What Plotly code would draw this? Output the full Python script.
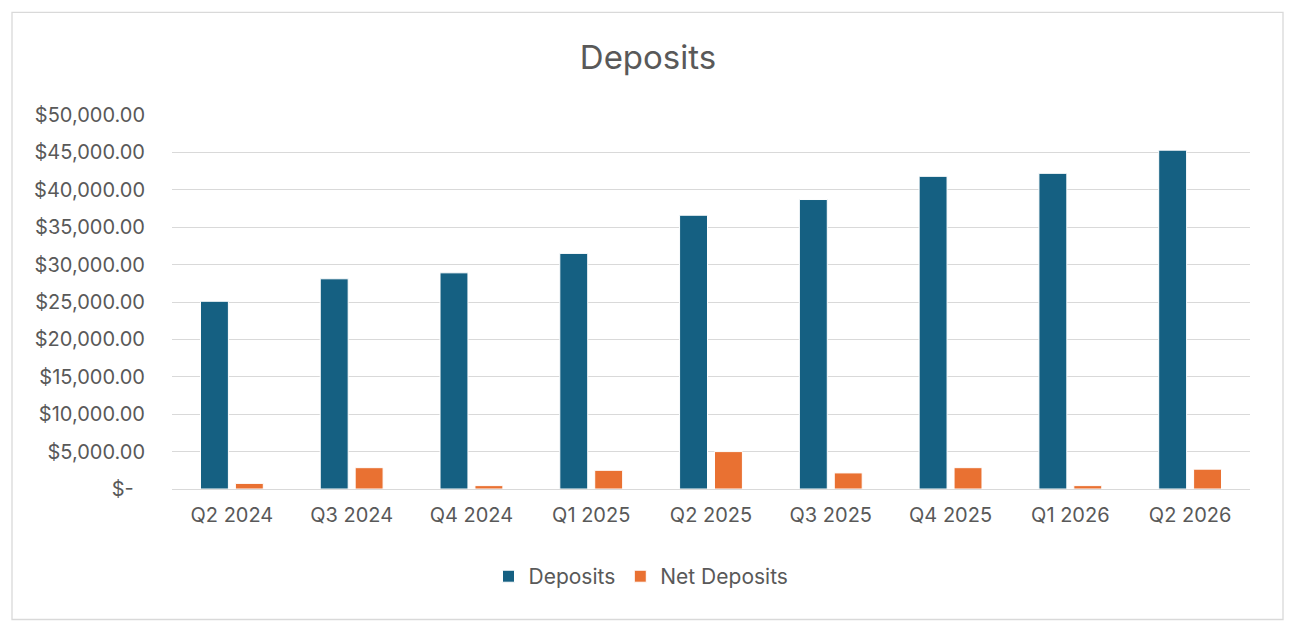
import plotly.graph_objects as go

quarters = ["Q2 2024", "Q3 2024", "Q4 2024", "Q1 2025", "Q2 2025",
            "Q3 2025", "Q4 2025", "Q1 2026", "Q2 2026"]
deposits = [25100, 28100, 28900, 31500, 36600, 38700, 41800, 42200, 45300]
net_deposits = [750, 2850, 450, 2500, 5000, 2150, 2850, 450, 2650]

y_tick_values = [0, 5000, 10000, 15000, 20000, 25000, 30000, 35000, 40000, 45000, 50000]
y_tick_labels = ["$-\u00a0\u00a0", "$5,000.00", "$10,000.00", "$15,000.00", "$20,000.00",
                 "$25,000.00", "$30,000.00", "$35,000.00", "$40,000.00", "$45,000.00",
                 "$50,000.00"]

FONT = "Inter"
TXT = "#595959"

fig = go.Figure()
fig.add_trace(go.Bar(name="Deposits", x=quarters, y=deposits,
                     marker=dict(color="#156082", line=dict(color="white", width=1))))
fig.add_trace(go.Bar(name="Net Deposits", x=quarters, y=net_deposits,
                     marker=dict(color="#E97132", line=dict(color="white", width=1))))

# page has an 8px body margin; figure coordinates = page coordinates - 8
OFF = 8
W, H = 1280, 616
L = 172 - OFF
T = 114.7 - OFF
R = W - (1250 - OFF)
B = H - (489.3 - OFF)
pw = W - L - R
ph = H - T - B

def px_x(x):
    return (x - OFF - L) / pw

def px_y(y):
    return (H - B - (y - OFF)) / ph

fig.update_layout(
    width=W, height=H,
    margin=dict(l=L, r=R, t=T, b=B, pad=0),
    paper_bgcolor="white", plot_bgcolor="white",
    font=dict(family=FONT, color=TXT, size=20),
    barmode="group", bargap=0.417, bargroupgap=0.2,
    title=dict(text="Deposits", x=0.5, xanchor="center", y=1 - (57 - OFF) / H, yanchor="middle",
               yref="container", font=dict(size=33, color=TXT, family=FONT)),
    showlegend=True,
    legend=dict(orientation="h", x=px_x(641), xanchor="center", y=px_y(577), yanchor="middle",
                font=dict(size=21, color=TXT, family=FONT), itemwidth=30,
                traceorder="normal"),
    xaxis=dict(showgrid=False, showline=False, ticks="", ticklabelstandoff=12,
               tickfont=dict(size=20, color=TXT, family=FONT)),
    yaxis=dict(range=[0, 50000], tickvals=y_tick_values, ticktext=y_tick_labels,
               showgrid=True, gridcolor="#D9D9D9", gridwidth=1.3,
               zeroline=True, zerolinecolor="#D9D9D9", zerolinewidth=1.3,
               showline=False, ticks="", ticklabelstandoff=26,
               tickfont=dict(size=20, color=TXT, family=FONT)),
    shapes=[dict(type="rect", xref="paper", yref="paper",
                 x0=px_x(12), x1=px_x(1283), y0=px_y(620), y1=px_y(12),
                 line=dict(color="#D9D9D9", width=1.3), fillcolor="rgba(0,0,0,0)",
                 layer="below")],
)

fig.write_html("out.html")
